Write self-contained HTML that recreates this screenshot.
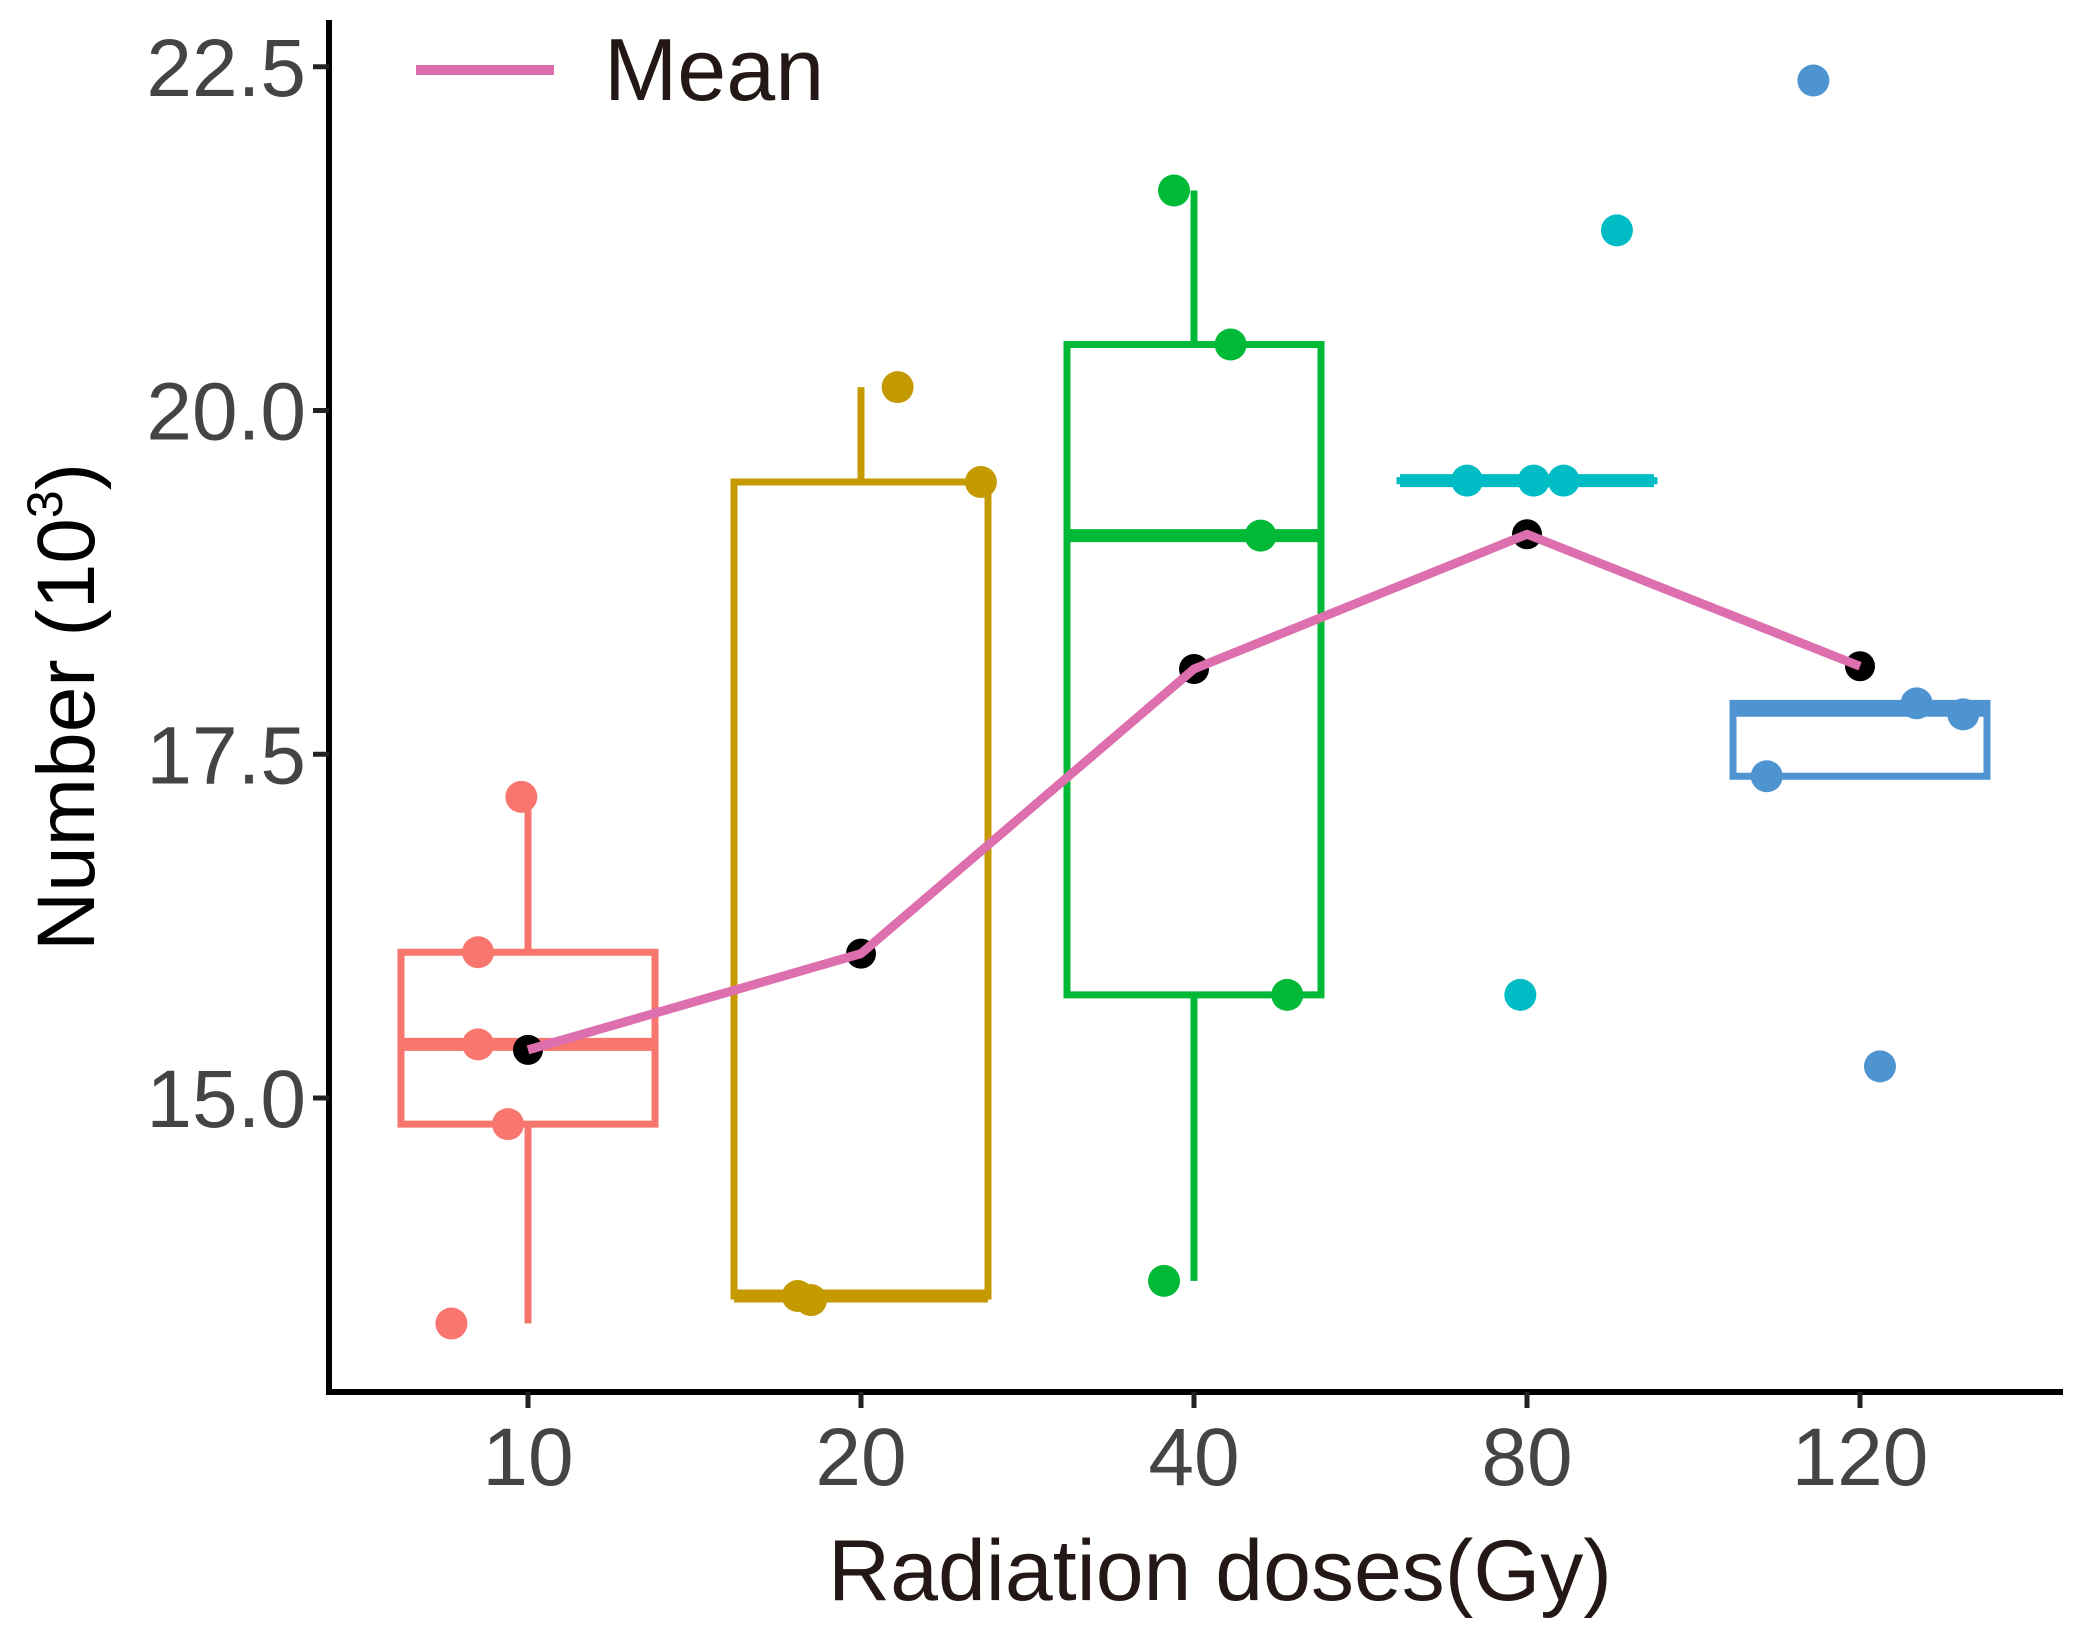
<!DOCTYPE html>
<html><head><meta charset="utf-8"><style>
html,body{margin:0;padding:0;background:#fff;}
svg{display:block;font-family:"Liberation Sans",Arial,sans-serif;}
</style></head><body>
<svg id="chart" width="2094" height="1638" viewBox="0 0 2094 1638" xmlns="http://www.w3.org/2000/svg"></svg>
<script>
const categories = ["10","20","40","80","120"];
const colors = ["#F8766D","#C49A00","#00B936","#00BCC4","#4E94D0"];
const q1 = [14.81,13.56,15.75,19.49,17.34];
const median = [15.39,13.56,19.09,19.49,17.82];
const q3 = [16.06,19.48,20.48,19.49,17.87];
const whiskerLow = [13.36,13.56,13.67,19.49,17.34];
const whiskerHigh = [17.19,20.17,21.6,19.49,17.87];
const means = [15.35,16.05,18.12,19.1,18.14];
const pointValues = [
  [17.19,16.06,15.39,14.81,13.36],
  [20.17,19.48,13.56,13.53],
  [21.6,20.48,19.09,15.75,13.67],
  [21.31,19.49,19.49,19.49,15.75],
  [22.4,17.87,17.79,17.34,15.23]
];
const pointJitter = [
  [-0.02,-0.15,-0.15,-0.06,-0.23],
  [0.11,0.36,-0.19,-0.15],
  [-0.06,0.11,0.2,0.28,-0.09],
  [0.27,-0.18,0.02,0.11,-0.02],
  [-0.14,0.17,0.31,-0.28,0.06]
];
const yTicks = [15.0,17.5,20.0,22.5];
const yTickLabels = ["15.0","17.5","20.0","22.5"];

const NS="http://www.w3.org/2000/svg";
const svg=document.getElementById('chart');
const X0=528, XSTEP=333;
const Y0=1098, YPX=137.5;
function xs(i){return X0+i*XSTEP;}
function ys(v){return Y0-(v-15)*YPX;}
function mk(tag,attrs,parent){const e=document.createElementNS(NS,tag);for(const k in attrs)e.setAttribute(k,attrs[k]);(parent||svg).appendChild(e);return e;}

const ax=mk('line',{x1:329,y1:20,x2:329,y2:1395,stroke:'#000','stroke-width':6});


const bx=mk('line',{x1:326,y1:1392,x2:2063,y2:1392,stroke:'#000','stroke-width':6});



yTicks.forEach((v,i)=>{
  const t=mk('line',{x1:313,y1:ys(v),x2:329,y2:ys(v),stroke:'#222','stroke-width':5});
  
  
  const l=mk('text',{x:306,y:ys(v)+29,'text-anchor':'end','font-size':82,fill:'#444'});
  l.textContent=yTickLabels[i];
  
  
});
categories.forEach((c,i)=>{
  const t=mk('line',{x1:xs(i),y1:1392,x2:xs(i),y2:1408,stroke:'#222','stroke-width':5});
  
  
  const l=mk('text',{x:xs(i),y:1485,'text-anchor':'middle','font-size':82,fill:'#444'});
  l.textContent=c;
  
  
});

const HW=127;
categories.forEach((c,i)=>{
  const g=mk('g',{});
  
  
  const col=colors[i];
  if(whiskerHigh[i]>q3[i]) mk('line',{x1:xs(i),y1:ys(q3[i]),x2:xs(i),y2:ys(whiskerHigh[i]),stroke:col,'stroke-width':7},g);
  if(whiskerLow[i]<q1[i]) mk('line',{x1:xs(i),y1:ys(q1[i]),x2:xs(i),y2:ys(whiskerLow[i]),stroke:col,'stroke-width':7},g);
  mk('rect',{x:xs(i)-HW,y:ys(q3[i]),width:2*HW,height:Math.max(0.1,ys(q1[i])-ys(q3[i])),fill:'none',stroke:col,'stroke-width':7},g);
  mk('line',{x1:xs(i)-HW,y1:ys(median[i]),x2:xs(i)+HW,y2:ys(median[i]),stroke:col,'stroke-width':13},g);
  pointValues[i].forEach((v,j)=>{
    const p=mk('circle',{cx:xs(i)+pointJitter[i][j]*XSTEP,cy:ys(v),r:16,fill:col},g);
    
    
  });
});

means.forEach((m,i)=>{
  const p=mk('circle',{cx:xs(i),cy:ys(m),r:15,fill:'#000'});
  
  
});
const pts=means.map((m,i)=>xs(i)+','+ys(m)).join(' ');
const ml=mk('polyline',{points:pts,fill:'none',stroke:'#DD6FAE','stroke-width':9,'stroke-linejoin':'round'});



const lg=mk('g',{});


mk('line',{x1:416,y1:70,x2:554,y2:70,stroke:'#DD6FAE','stroke-width':10},lg);
const lt=mk('text',{x:604,y:100,'font-size':88,fill:'#231815'},lg);
lt.textContent='Mean';

const xt=mk('text',{x:1220,y:1600,'text-anchor':'middle','font-size':86,fill:'#231815'});
xt.textContent='Radiation doses(Gy)';


const yt=mk('text',{x:0,y:0,'text-anchor':'middle','font-size':82,fill:'#000',transform:'translate(94,707) rotate(-90)'});
yt.innerHTML='Number (10<tspan font-size="50" dy="-32">3</tspan><tspan dy="32">)</tspan>';


</script>
</body></html>
